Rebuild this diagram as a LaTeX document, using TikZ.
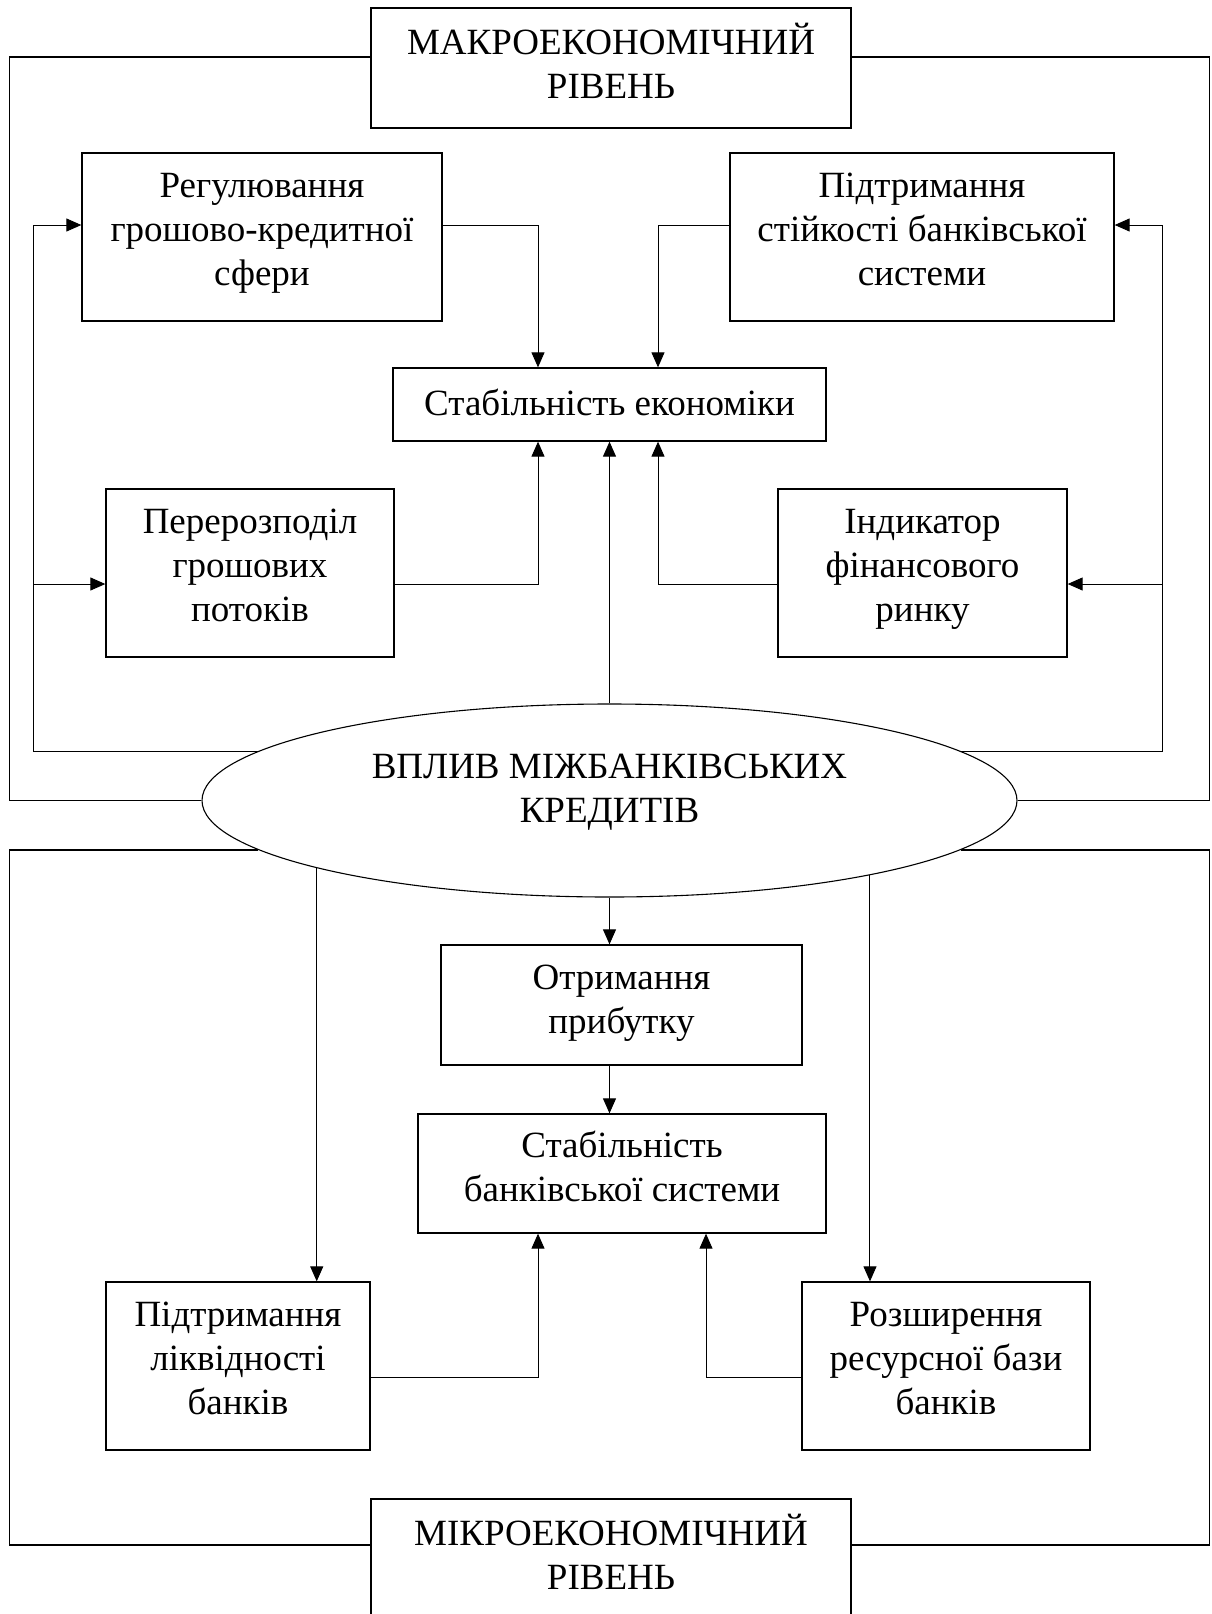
\documentclass[tikz,border=0pt]{standalone}
\usepackage{fontspec}
\setmainfont{Liberation Serif}
\usetikzlibrary{arrows.meta,shapes.geometric}

\begin{document}
\begin{tikzpicture}[x=1pt,y=-1pt,
  box/.style={shape=rectangle,draw=black,line width=1.3pt,inner sep=0pt,align=center,text depth=15pt,font=\fontsize{37}{44}\selectfont},
  oval/.style={shape=ellipse,draw=black,line width=1.1pt,inner sep=0pt,align=center,text depth=25pt,font=\fontsize{37}{44}\selectfont,minimum width=815pt,minimum height=193pt},
  conn/.style={line width=1pt,-{Triangle[length=15pt,width=13pt]}},
  frame/.style={line width=1.3pt}]
\useasboundingbox (0,0) rectangle (1211,1614);

\node[box,minimum width=480pt,minimum height=120pt] (macro) at (611,68) {МАКРОЕКОНОМІЧНИЙ\\РІВЕНЬ};
\node[box,minimum width=360pt,minimum height=168pt] (reg) at (262,237) {Регулювання\\грошово-кредитної\\сфери};
\node[box,minimum width=384pt,minimum height=168pt] (pidtr) at (922,237) {Підтримання\\стійкості банківської\\системи};
\node[box,text depth=4pt,minimum width=433pt,minimum height=73pt] (stabek) at (609.5,404.5) {Стабільність економіки};
\node[box,minimum width=288pt,minimum height=168pt] (perer) at (250,573) {Перерозподіл\\грошових\\потоків};
\node[box,minimum width=289pt,minimum height=168pt] (indyk) at (922.5,573) {Індикатор\\фінансового\\ринку};
\node[oval] (vplyv) at (609.5,800.5) {ВПЛИВ МІЖБАНКІВСЬКИХ\\КРЕДИТІВ};
\node[box,text depth=11pt,minimum width=361pt,minimum height=120pt] (otrym) at (621.5,1005) {Отримання\\прибутку};
\node[box,minimum width=408pt,minimum height=119pt] (stabbank) at (622,1173.5) {Стабільність\\банківської системи};
\node[box,minimum width=264pt,minimum height=168pt] (likv) at (238,1366) {Підтримання\\ліквідності\\банків};
\node[box,minimum width=288pt,minimum height=168pt] (rozsh) at (946,1366) {Розширення\\ресурсної бази\\банків};
\node[box,minimum width=480pt,minimum height=120pt] (micro) at (611,1559) {МІКРОЕКОНОМІЧНИЙ\\РІВЕНЬ};

% macro level
\draw[frame] ([yshift=11pt]macro.west) -| ([xshift=-192pt]vplyv.west) -- (vplyv.west);
\draw[frame] ([yshift=11pt]macro.east) -| ([xshift=192pt]vplyv.east) -- (vplyv.east);
\draw[conn] (vplyv.172.5) -| ([xshift=-48pt,yshift=12pt]reg.west) -- ([yshift=12pt]reg.west);
\draw[conn] ([xshift=-72pt,yshift=-11pt]perer.west) -- ([yshift=-11pt]perer.west);
\draw[conn] (vplyv.8.1) -| ([xshift=48pt,yshift=12pt]pidtr.east) -- ([yshift=12pt]pidtr.east);
\draw[conn] ([xshift=95pt,yshift=-11pt]indyk.east) -- ([yshift=-11pt]indyk.east);
\draw[conn] ([yshift=12pt]reg.east) -| ([xshift=-71.5pt]stabek.north);
\draw[conn] ([yshift=12pt]pidtr.west) -| ([xshift=48.5pt]stabek.north);
\draw[conn] ([yshift=-11pt]perer.east) -| ([xshift=-71.5pt]stabek.south);
\draw[conn] ([yshift=-11pt]indyk.west) -| ([xshift=48.5pt]stabek.south);
\draw[conn] (vplyv.north) -- (stabek.south);

% micro level
\draw[frame] (vplyv.188.0) -| ([xshift=-361pt,yshift=14pt]micro.west) -- ([yshift=14pt]micro.west);
\draw[frame] (vplyv.352.6) -| ([xshift=358pt,yshift=14pt]micro.east) -- ([yshift=14pt]micro.east);
\draw[conn] (vplyv.193.4) -- (vplyv.193.4 |- likv.north);
\draw[conn] (vplyv.344.5) -- (vplyv.344.5 |- rozsh.north);
\draw[conn] (vplyv.south) -- (vplyv.south |- otrym.north);
\draw[conn] (otrym.south -| vplyv.south) -- (stabbank.north -| vplyv.south);
\draw[conn] ([yshift=-11pt]likv.east) -| ([xshift=-84pt]stabbank.south);
\draw[conn] ([yshift=-11pt]rozsh.west) -| ([xshift=84pt]stabbank.south);
\end{tikzpicture}
\end{document}
